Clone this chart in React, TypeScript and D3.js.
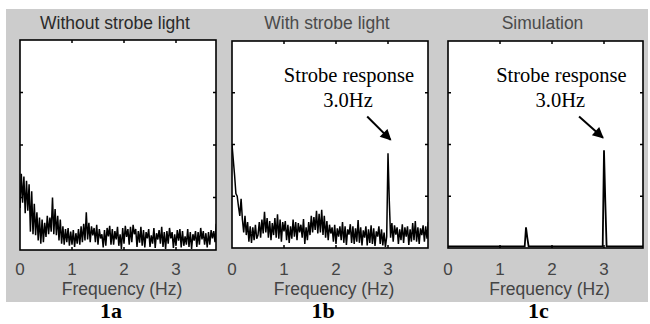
import React, { useRef, useEffect } from 'react';
import * as d3 from 'd3';

// spectra sampled every 0.025 Hz, starting at 0 Hz
const freqStep = 0.025;

const withoutStrobe = [
  0.80, 1.45, 0.90, 1.40, 0.70, 1.32, 0.75, 1.25, 0.35, 1.12, 0.30, 0.88,
  0.28, 0.72, 0.18, 0.62, 0.12, 0.58, 0.15, 0.52, 0.25, 0.65, 0.30, 0.62,
  0.35, 1.00, 0.30, 0.78, 0.28, 0.65, 0.18, 0.58, 0.12, 0.45, 0.10, 0.40,
  0.15, 0.42, 0.08, 0.35, 0.10, 0.38, 0.06, 0.32, 0.12, 0.40, 0.10, 0.45,
  0.15, 0.50, 0.18, 0.72, 0.20, 0.52, 0.15, 0.45, 0.28, 0.42, 0.15, 0.48,
  0.10, 0.40, 0.22, 0.30, 0.05, 0.38, 0.08, 0.42, 0.26, 0.46, 0.10, 0.40,
  0.10, 0.36, 0.20, 0.44, 0.08, 0.30, 0.02, 0.42, 0.12, 0.46, 0.25, 0.40,
  0.10, 0.44, 0.15, 0.48, 0.30, 0.40, 0.06, 0.36, 0.14, 0.44, 0.08, 0.38,
  0.05, 0.34, 0.22, 0.40, 0.06, 0.28, 0.12, 0.42, 0.04, 0.32, 0.20, 0.38,
  0.12, 0.44, 0.06, 0.34, 0.02, 0.36, 0.12, 0.42, 0.22, 0.34, 0.04, 0.30,
  0.08, 0.38, 0.18, 0.40, 0.05, 0.36, 0.08, 0.26, 0.10, 0.40, 0.06, 0.34,
  0.02, 0.30, 0.18, 0.36, 0.06, 0.34, 0.10, 0.42, 0.20, 0.36, 0.10, 0.32,
  0.05, 0.34, 0.10, 0.38, 0.22, 0.36, 0.15, 0.50,
];

const withStrobe = [
  2.00, 1.70, 1.40, 1.05, 1.00, 0.80, 0.62, 0.95, 0.55, 0.30, 0.62, 0.25,
  0.50, 0.12, 0.42, 0.10, 0.40, 0.15, 0.45, 0.18, 0.25, 0.50, 0.20, 0.55,
  0.28, 0.70, 0.30, 0.58, 0.20, 0.52, 0.15, 0.48, 0.25, 0.58, 0.20, 0.65,
  0.18, 0.55, 0.12, 0.50, 0.32, 0.52, 0.15, 0.45, 0.10, 0.42, 0.18, 0.55,
  0.22, 0.50, 0.15, 0.48, 0.30, 0.45, 0.20, 0.56, 0.08, 0.40, 0.15, 0.50,
  0.25, 0.62, 0.30, 0.60, 0.35, 0.72, 0.28, 0.66, 0.30, 0.74, 0.25, 0.62,
  0.20, 0.52, 0.15, 0.45, 0.28, 0.40, 0.12, 0.45, 0.08, 0.38, 0.22, 0.42,
  0.15, 0.50, 0.10, 0.42, 0.06, 0.36, 0.26, 0.46, 0.10, 0.42, 0.08, 0.38,
  0.12, 0.54, 0.10, 0.40, 0.05, 0.34, 0.20, 0.42, 0.05, 0.36, 0.10, 0.44,
  0.08, 0.38, 0.04, 0.32, 0.22, 0.42, 0.08, 0.36, 0.05, 0.30, 0.02, 0.22,
  1.83, 0.91, 0.20, 0.48, 0.12, 0.44, 0.26, 0.40, 0.08, 0.36, 0.15, 0.46,
  0.10, 0.40, 0.22, 0.42, 0.06, 0.36, 0.12, 0.48, 0.15, 0.52, 0.12, 0.40,
  0.08, 0.38, 0.25, 0.44, 0.12, 0.42, 0.18, 0.50,
];

const simFreq = [0, 1.475, 1.5, 1.525, 1.55, 2.975, 3.0, 3.025, 3.05, 3.775];
const simValues = [0.03, 0.03, 0.40, 0.20, 0.03, 0.03, 1.89, 0.90, 0.03, 0.03];

const xTicks = [0, 1, 2, 3];
const yTicks = [1, 2, 3];
const panelTitles = ['Without strobe light', 'With strobe light', 'Simulation'];
const panelLabels = ['1a', '1b', '1c'];
const xLabel = 'Frequency (Hz)';
const noteLines = ['Strobe response', '3.0Hz'];

const toPoints = (values: number[]) => values.map((v, i) => [i * freqStep, v] as [number, number]);

const App = () => {
  const svgRef = useRef<SVGSVGElement>(null);

  useEffect(() => {
    const svg = d3.select(svgRef.current);
    svg.selectAll('*').remove();

    const sans = '"Liberation Sans", Arial, sans-serif';
    const serif = '"Liberation Serif", "Times New Roman", serif';

    // grey figure background
    svg.append('rect')
      .attr('x', 6).attr('y', 9)
      .attr('width', 642).attr('height', 293)
      .attr('fill', '#cccccc');

    const defs = svg.append('defs');
    defs.append('marker')
      .attr('id', 'arrowhead')
      .attr('viewBox', '0 0 10 10')
      .attr('refX', 9).attr('refY', 5)
      .attr('markerUnits', 'userSpaceOnUse')
      .attr('markerWidth', 13).attr('markerHeight', 11)
      .attr('orient', 'auto')
      .append('path')
      .attr('d', 'M0,0 L10,5 L0,10 Z')
      .attr('fill', '#000');

    const panels = [
      { x: 20, y: 40, w: 196, h: 210, series: toPoints(withoutStrobe), note: null, titleColor: '#2a2a2a' },
      { x: 232, y: 41, w: 196, h: 207, series: toPoints(withStrobe),
        note: { textX: 2.25, arrowFrom: [2.6, 2.54], arrowTo: [3.05, 2.09] }, titleColor: '#4a4a4a' },
      { x: 448, y: 41, w: 195, h: 207, series: simFreq.map((f, i) => [f, simValues[i]] as [number, number]),
        note: { textX: 2.18, arrowFrom: [2.52, 2.54], arrowTo: [2.98, 2.13] }, titleColor: '#4a4a4a' },
    ];

    panels.forEach((p, k) => {
      const x = d3.scaleLinear().domain([0, p.w / 52]).range([p.x, p.x + p.w]);
      const y = d3.scaleLinear().domain([0, 4]).range([p.y + p.h, p.y]);
      const cx = p.x + p.w / 2;

      svg.append('rect')
        .attr('x', p.x).attr('y', p.y)
        .attr('width', p.w).attr('height', p.h)
        .attr('fill', '#fff');

      const clipId = `clip-${k}`;
      defs.append('clipPath').attr('id', clipId)
        .append('rect')
        .attr('x', p.x).attr('y', p.y)
        .attr('width', p.w).attr('height', p.h);

      const line = d3.line<[number, number]>()
        .x((d) => x(d[0]))
        .y((d) => y(d[1]));

      svg.append('path')
        .datum(p.series)
        .attr('clip-path', `url(#${clipId})`)
        .attr('d', line)
        .attr('fill', 'none')
        .attr('stroke', '#000')
        .attr('stroke-width', k === 2 ? 1.8 : 1.5);

      // inward ticks on all four sides
      const tickLen = 3;
      const g = svg.append('g').attr('stroke', '#000').attr('stroke-width', 1.5);
      xTicks.filter((t) => t > 0).forEach((t) => {
        g.append('line').attr('x1', x(t)).attr('x2', x(t)).attr('y1', p.y).attr('y2', p.y + tickLen);
        g.append('line').attr('x1', x(t)).attr('x2', x(t)).attr('y1', p.y + p.h).attr('y2', p.y + p.h - tickLen);
      });
      yTicks.forEach((t) => {
        g.append('line').attr('x1', p.x).attr('x2', p.x + tickLen).attr('y1', y(t)).attr('y2', y(t));
        g.append('line').attr('x1', p.x + p.w).attr('x2', p.x + p.w - tickLen).attr('y1', y(t)).attr('y2', y(t));
      });

      svg.append('rect')
        .attr('x', p.x).attr('y', p.y)
        .attr('width', p.w).attr('height', p.h)
        .attr('fill', 'none')
        .attr('stroke', '#000')
        .attr('stroke-width', 1.6);

      // tick labels
      svg.append('g')
        .selectAll('text')
        .data(xTicks)
        .enter()
        .append('text')
        .attr('x', (d) => x(d))
        .attr('y', 274.5)
        .attr('text-anchor', 'middle')
        .attr('font-family', sans)
        .attr('font-size', 17)
        .attr('fill', '#444')
        .text((d) => d);

      svg.append('text')
        .attr('x', cx + 4).attr('y', 295)
        .attr('text-anchor', 'middle')
        .attr('font-family', sans)
        .attr('font-size', 17.5)
        .attr('fill', '#444')
        .text(xLabel);

      svg.append('text')
        .attr('x', cx - 3).attr('y', 29)
        .attr('text-anchor', 'middle')
        .attr('font-family', sans)
        .attr('font-size', 17.5)
        .attr('fill', p.titleColor)
        .text(panelTitles[k]);

      svg.append('text')
        .attr('x', cx - 7).attr('y', 318)
        .attr('text-anchor', 'middle')
        .attr('font-family', serif)
        .attr('font-weight', 'bold')
        .attr('font-size', 22)
        .attr('fill', '#000')
        .text(panelLabels[k]);

      if (p.note) {
        const n = p.note;
        svg.append('text')
          .attr('x', x(n.textX)).attr('y', 82)
          .attr('text-anchor', 'middle')
          .attr('font-family', serif)
          .attr('font-size', 20.5)
          .text(noteLines[0]);
        svg.append('text')
          .attr('x', x(n.textX) - 1).attr('y', 107)
          .attr('text-anchor', 'middle')
          .attr('font-family', serif)
          .attr('font-size', 20.5)
          .text(noteLines[1]);
        svg.append('line')
          .attr('x1', x(n.arrowFrom[0])).attr('y1', y(n.arrowFrom[1]))
          .attr('x2', x(n.arrowTo[0])).attr('y2', y(n.arrowTo[1]))
          .attr('stroke', '#000')
          .attr('stroke-width', 2)
          .attr('marker-end', 'url(#arrowhead)');
      }
    });
  }, []);

  return (
    <svg
      ref={svgRef}
      width={650}
      height={324}
      style={{ position: 'absolute', left: 0, top: 0, background: '#fff' }}
    ></svg>
  );
};

export default App;
